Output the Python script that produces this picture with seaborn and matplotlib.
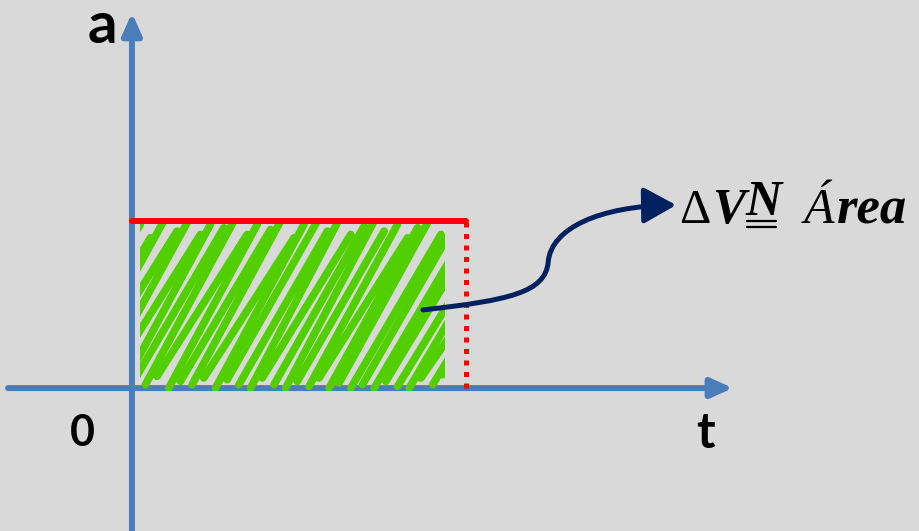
import numpy as np
import matplotlib
matplotlib.use("Agg")
import matplotlib.pyplot as plt
import seaborn as sns
from matplotlib.path import Path
from matplotlib.patches import FancyArrowPatch, Rectangle

# ---------------- data ----------------
t_end = 10.0          # end of the interval on t axis
a_const = 5.0         # constant acceleration level
t_line = [0.0, t_end]
a_line = [a_const, a_const]

# hand-drawn green scribble: end points of each stroke
scribble_t_low = [-2.8, -2.45, -2.1, -1.7, -1.35, -1.0, -0.65, -0.3, 0.05, 0.4,
                  0.75, 1.1, 1.45, 1.8, 2.15, 2.5, 2.85, 3.2, 3.55, 3.9,
                  4.25, 4.6, 4.95, 5.3, 5.6, 5.9, 6.2, 6.55, 6.9, 7.25,
                  7.6, 7.95, 8.3, 8.65, 9.0, 9.3]
scribble_t_high = [-0.15, 0.25, 0.55, 0.95, 1.35, 1.65, 2.05, 2.35, 2.75, 3.05,
                   3.45, 3.75, 4.15, 4.45, 4.85, 5.15, 5.55, 5.85, 6.15, 6.55,
                   6.95, 7.25, 7.55, 7.95, 8.25, 8.55, 8.85, 9.25, 9.55, 9.85,
                   10.25, 10.55, 10.95, 11.35, 11.65, 11.95]
scribble_a_low = [0.1, 0.3, 0.0, 0.2, 0.4, 0.1, 0.3, 0.0, 0.2, 0.1,
                  0.35, 0.0, 0.2, 0.1, 0.3, 0.0, 0.25, 0.1, 0.0, 0.3,
                  0.1, 0.0, 0.2, 0.05, 0.3, 0.0, 0.15, 0.0, 0.1, 0.0,
                  0.2, 0.05, 0.0, 0.3, 0.1, 0.4]
scribble_a_high = [4.6, 4.9, 4.5, 5.0, 4.7, 4.95, 4.6, 4.9, 4.8, 5.0,
                   4.6, 4.9, 4.75, 5.0, 4.5, 4.9, 5.0, 4.7, 4.95, 4.6,
                   4.85, 5.0, 4.7, 4.9, 4.5, 4.8, 4.95, 4.6, 4.7, 4.4,
                   4.6, 4.3, 4.5, 4.2, 4.4, 4.3]
scribble_box = (0.24, -0.1, 9.13, 5.2)   # t0, a0, width, height

# curved annotation arrow (cubic bezier control points)
curve_t = [8.71, 11.32, 12.37, 12.46, 12.54, 14.01, 16.29]
curve_a = [2.34, 2.63, 2.87, 3.77, 4.79, 5.45, 5.48]

axis_label_a = "a"
axis_label_t = "t"
origin_label = "0"

# ---------------- style ----------------
bg = "#d9d9d9"
axis_blue = "#4a7ebb"
green = "#52cf00"
navy = "#002060"

sns.set_theme(style="white", rc={"figure.facecolor": bg, "axes.facecolor": bg})

fig = plt.figure(figsize=(9.19, 5.31), dpi=100)
ax = fig.add_axes([0, 0, 1, 1])
ax.set_facecolor(bg)

# green scribble strokes, clipped to the area
zx, zy = [], []
for t0, t1, a0, a1 in zip(scribble_t_low, scribble_t_high, scribble_a_low, scribble_a_high):
    zx += [t0, t1, np.nan]
    zy += [a0, a1, np.nan]
clip = Rectangle((scribble_box[0], scribble_box[1]), scribble_box[2], scribble_box[3],
                 transform=ax.transData)
scr, = ax.plot(zx, zy, color=green, lw=5.5, solid_capstyle="round", zorder=2)
scr.set_clip_path(clip)

# constant acceleration line
sns.lineplot(x=t_line, y=a_line, color="red", linewidth=4.3, ax=ax, zorder=3)
ax.plot([t_end, t_end], [0, a_const], color="red", lw=3.6,
        linestyle=(0, (1, 1.3)), dash_capstyle="butt", zorder=3)

# axes with arrows
ax.annotate("", xy=(17.99, 0), xytext=(-3.71, 0),
            arrowprops=dict(arrowstyle="-|>,head_length=1.0,head_width=0.45",
                            lw=4.3, color=axis_blue, shrinkA=0, shrinkB=0,
                            mutation_scale=13), zorder=1)
ax.annotate("", xy=(0, 11.23), xytext=(0, -4.4),
            arrowprops=dict(arrowstyle="-|>,head_length=1.0,head_width=0.45",
                            lw=4.3, color=axis_blue, shrinkA=0, shrinkB=0,
                            mutation_scale=13), zorder=1)

# labels
ax.text(-0.87, 10.33, axis_label_a, ha="center", va="baseline", fontsize=42,
        fontweight="bold", family="Lato", color="black")
ax.text(17.16, -1.80, axis_label_t, ha="center", va="baseline", fontsize=36,
        fontweight="bold", family="Lato", color="black")
ax.text(-1.47, -1.74, origin_label, ha="center", va="baseline", fontsize=31,
        fontweight="bold", family="Lato", color="black")

# curved arrow
verts = list(zip(curve_t, curve_a))
codes = [Path.MOVETO, Path.CURVE4, Path.CURVE4, Path.CURVE4,
         Path.CURVE4, Path.CURVE4, Path.CURVE4]
arrow = FancyArrowPatch(path=Path(verts, codes),
                        arrowstyle="-|>,head_length=0.9,head_width=0.5",
                        mutation_scale=22, color=navy, lw=3.6, zorder=4)
ax.add_patch(arrow)

# formula text  ΔV N(double underline) Área
base = 4.94
fs = 36
serif = "Liberation Serif"
ax.text(16.38, base, "Δ", ha="left", va="baseline", fontsize=fs - 1,
        family=serif, color="black")
ax.text(17.37, base, "V", ha="left", va="baseline", fontsize=fs,
        family=serif, style="italic", fontweight="bold", color="black")
ax.text(18.38, 5.18, "N", ha="left", va="baseline", fontsize=fs,
        family=serif, style="italic", fontweight="bold", color="black")
ax.plot([18.41, 19.28], [5.00, 5.00], color="black", lw=1.6)
ax.plot([18.41, 19.28], [4.82, 4.82], color="black", lw=1.6)
ax.text(20.1, base, "Á", ha="left", va="baseline", fontsize=fs,
        family=serif, style="italic", color="black")
ax.text(21.11, base, "rea", ha="left", va="baseline", fontsize=fs + 2,
        family=serif, style="italic", fontweight="bold", color="black")

ax.set_xlim(-3.95, 23.56)
ax.set_ylim(-4.28, 11.62)
ax.axis("off")

fig.savefig("out.png", dpi=100, facecolor=bg)
